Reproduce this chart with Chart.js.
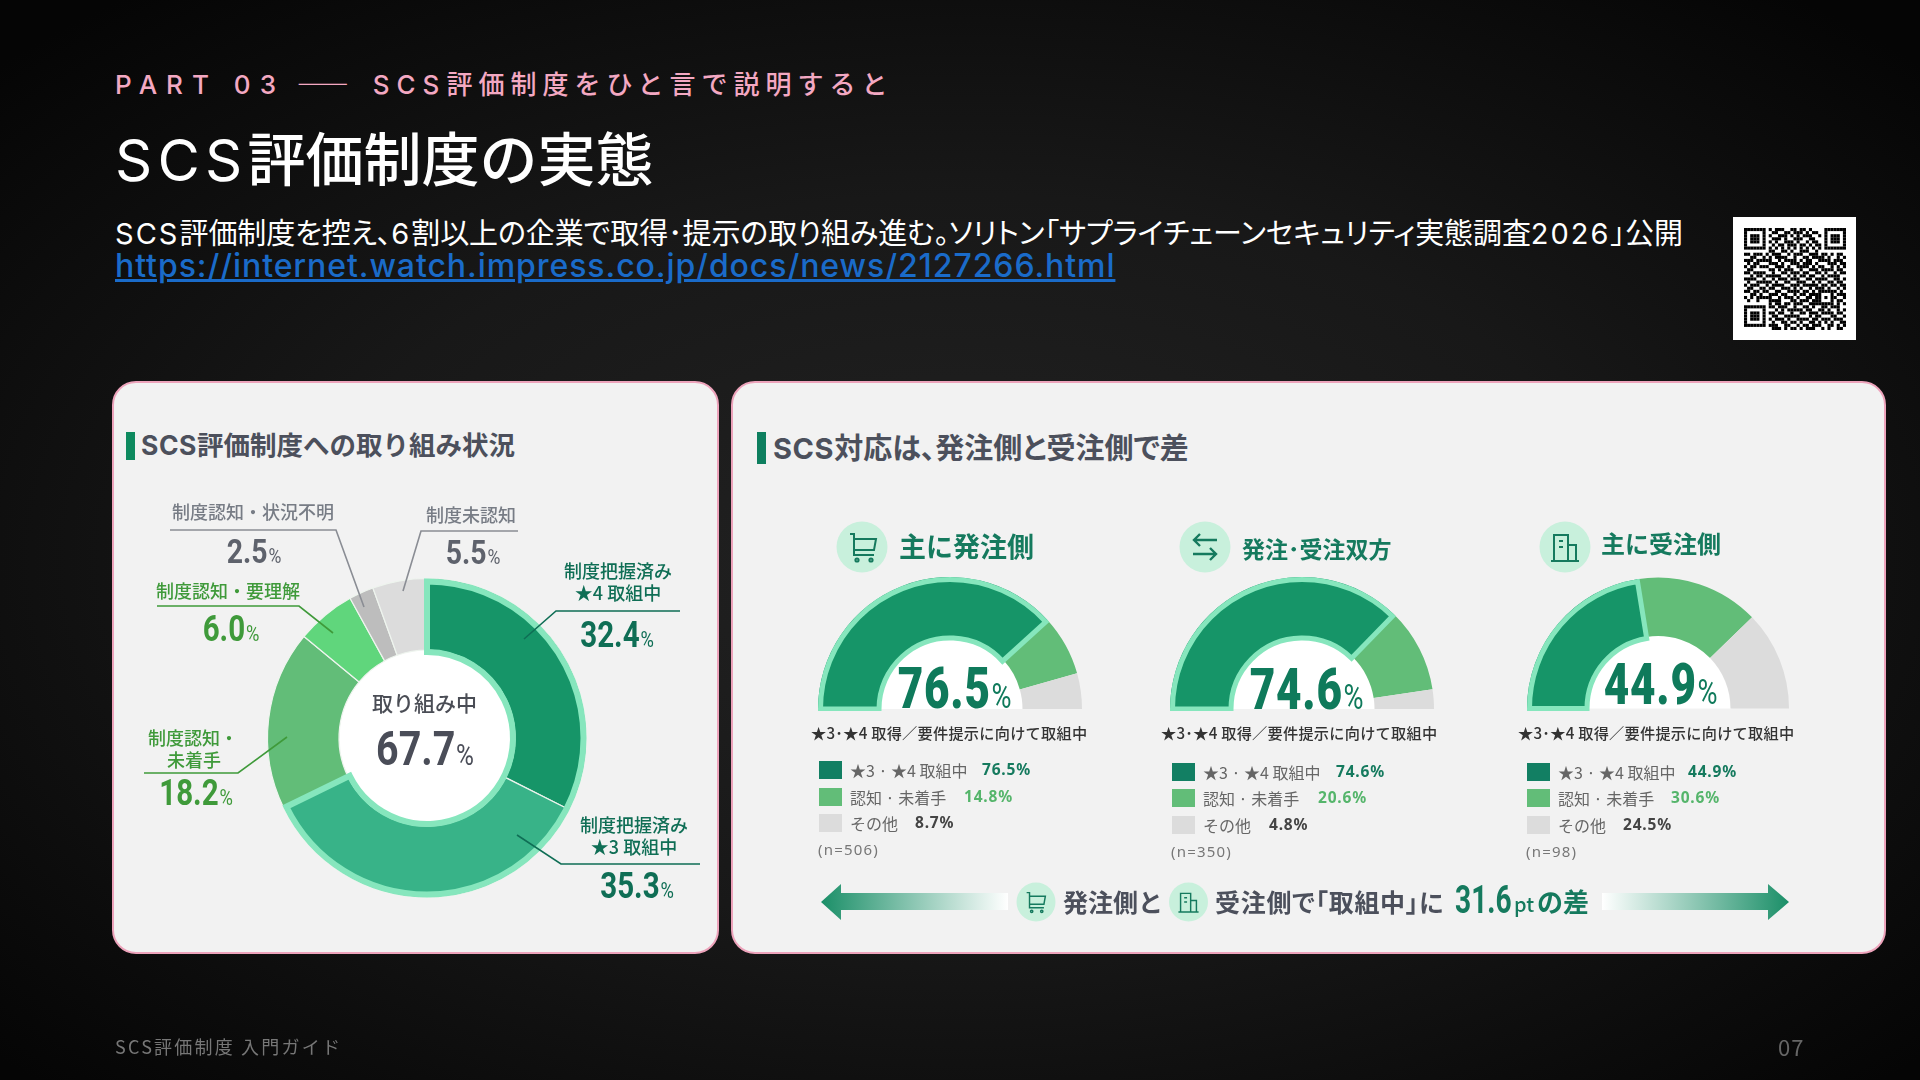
<!DOCTYPE html>
<html lang="ja">
<head>
<meta charset="utf-8">
<title>SCS評価制度の実態</title>
<script src="https://cdn.jsdelivr.net/npm/chart.js@4"></script>
<style>
html, body { margin: 0; padding: 0; }
body { width: 1920px; height: 1080px; overflow: hidden; position: relative;
  background: radial-gradient(ellipse 68% 68% at 50% 52%, #222 0%, #181818 50%, #050505 100%);
  font-family: "Noto Sans CJK JP", "Noto Sans", sans-serif; }
.card { position: absolute; box-sizing: border-box; background: #f2f2f2; border: 2px solid #eda3bb; border-radius: 24px; }
.t { position: absolute; white-space: nowrap; line-height: 1; }
.lat { font-family: Inter, sans-serif; letter-spacing: 0.07em; }
canvas, svg { position: absolute; }
.num { font-family: Roboto, sans-serif; font-weight: 700; }
.num small { font-weight: 400; font-size: 62%; margin-left: 1px; }
</style>
</head>
<body>
<script>
// values
const donutLabels = ['制度把握済み★4取組中', '制度把握済み★3取組中', '制度認知・未着手', '制度認知・要理解', '制度認知・状況不明', '制度未認知'];
const donutValues = [32.4, 35.3, 18.2, 6.0, 2.5, 5.5];
const donutColors = ['#169568', '#38b388', '#62bd78', '#60d67c', '#bdbdbd', '#dcdcdc'];

const gaugeLabels = ['★3・★4 取組中', '認知・未着手', 'その他'];
const gaugeColors = ['#169568', '#62bd78', '#dcdcdc'];
const gaugeNames = ['主に発注側', '発注･受注双方', '主に受注側'];
const gaugeBuyer = [76.5, 14.8, 8.7];
const gaugeBoth = [74.6, 20.6, 4.8];
const gaugeSeller = [44.9, 30.6, 24.5];
const gaugeCounts = ['(n=506)', '(n=350)', '(n=98)'];

const MINT = '#86e6bd';
const qrRows = [
'111111101011100110110100001111111',
'100000100110011011101011001000001',
'101110101001110101011100101011101',
'101110100111010011100110001011101',
'101110101010011101001011001011101',
'100000100101101110110101101000001',
'111111101010101010101010101111111',
'000000001100110100111001000000000',
'110111010111001011100111011010110',
'001100101011110010011011110100101',
'111011111001011110101100111101110',
'010110001110100111011101000111011',
'101101110011101001111010110010101',
'011000001101011100100111011110110',
'110111100100110111011001101001011',
'001011011111001010110110010111100',
'111100100101110111001101111001101',
'010011111010011001110010100110110',
'101110010111100111011111011011011',
'011001101100111010100101110100101',
'110110110011001111011010111111010',
'001101001110110010110111100010111',
'101011111001011101001101101011001',
'010010001111000110111011100010110',
'000000001011011011100111111110101',
'111111101101110010011010011011100',
'100000100010101111101100110100101',
'101110101101100100110111011110110',
'101110100110011111000101100011001',
'101110101011101001111011011101110',
'100000100100110110100110101010011',
'111111101110011001011011100110101',
'000000000111010110101110010100110'
];

// Helpers
function addText(str, x, cy, opts) {
    opts = opts || {};
    let el = document.createElement('div');
    el.className = 't' + (opts.num ? ' num' : '');
    el.innerHTML = str;
    el.style.left = x + 'px';
    el.style.top = (cy - 1.5) + 'px';
    el.style.fontSize = (opts.size || 16) + 'px';
    el.style.color = opts.color || '#333';
    if (opts.weight) el.style.fontWeight = opts.weight;
    if (opts.spacing) el.style.letterSpacing = opts.spacing + 'px';
    if (opts.palt) el.style.fontFeatureSettings = '"palt"';
    if (opts.decoration) el.style.textDecoration = opts.decoration;
    if (opts.family) el.style.fontFamily = opts.family;
    let tx = opts.center ? 'translate(-50%,-50%)' : 'translateY(-50%)';
    if (opts.sx) {
        tx += ' scaleX(' + opts.sx + ')';
        el.style.transformOrigin = opts.center ? '50% 50%' : '0 50%';
    }
    el.style.transform = tx;
    document.body.appendChild(el);
}

function addCard(x, y, w, h) {
    let el = document.createElement('div');
    el.className = 'card';
    el.style.cssText = `left:${x}px;top:${y}px;width:${w}px;height:${h}px`;
    document.body.appendChild(el);
}

function addBox(x, y, w, h, color) {
    let el = document.createElement('div');
    el.style.cssText = `position:absolute;left:${x}px;top:${y}px;width:${w}px;height:${h}px;background:${color}`;
    document.body.appendChild(el);
}

function numLabel(v) {
    return `${v.toFixed(1)}<small>%</small>`;
}

// white hole and the mint outline round the "in progress" segments
const outlinePlugin = {
    id: 'outline',
    beforeDatasetsDraw(chart, args, opts) {
        let a = chart.getDatasetMeta(0).data[0];
        let ctx = chart.ctx;
        ctx.save();
        ctx.fillStyle = '#fff';
        ctx.beginPath();
        if (opts.half) {
            ctx.arc(a.x, a.y, a.innerRadius + 1, -Math.PI, 0);
        } else {
            ctx.arc(a.x, a.y, a.innerRadius + 1, 0, Math.PI * 2);
        }
        ctx.fill();
        ctx.restore();
    },
    afterDatasetsDraw(chart, args, opts) {
        let arcs = chart.getDatasetMeta(0).data;
        let a = arcs[0];
        let b = arcs[opts.last];
        let w = opts.width;
        let ctx = chart.ctx;
        ctx.save();
        ctx.strokeStyle = MINT;
        ctx.lineWidth = w;
        ctx.lineJoin = 'miter';
        ctx.beginPath();
        ctx.arc(a.x, a.y, a.outerRadius - w / 2, a.startAngle, b.endAngle);
        ctx.arc(a.x, a.y, a.innerRadius - w / 2 + 1, b.endAngle, a.startAngle, true);
        ctx.closePath();
        ctx.stroke();
        ctx.restore();
    }
};

function makeCanvas(x, y, w, h) {
    let c = document.createElement('canvas');
    c.width = w;
    c.height = h;
    c.style.cssText = `left:${x}px;top:${y}px;width:${w}px;height:${h}px`;
    document.body.appendChild(c);
    return c;
}

function drawDonut() {
    new Chart(makeCanvas(257, 568, 340, 340), {
        type: 'doughnut',
        data: {
            labels: donutLabels,
            datasets: [{ data: donutValues, backgroundColor: donutColors, borderColor: '#eef4ee', borderWidth: 1.2 }]
        },
        options: {
            responsive: false, animation: false, devicePixelRatio: 1,
            radius: 159.5, cutout: (88 / 159.5 * 100) + '%',
            plugins: { legend: { display: false }, tooltip: { enabled: false }, outline: { last: 1, width: 6 } }
        },
        plugins: [outlinePlugin]
    });
}

function drawGauge(cx, baseline, radius, values) {
    new Chart(makeCanvas(cx - 136, baseline - 134, 272, 136), {
        type: 'doughnut',
        data: {
            labels: gaugeLabels,
            datasets: [{ data: values, backgroundColor: gaugeColors, borderWidth: 0 }]
        },
        options: {
            responsive: false, animation: false, devicePixelRatio: 1,
            rotation: -90, circumference: 180,
            radius: radius, cutout: (72.5 / radius * 100) + '%',
            plugins: { legend: { display: false }, tooltip: { enabled: false }, outline: { last: 0, width: 5, half: true } }
        },
        plugins: [outlinePlugin]
    });
}

function drawQr() {
    addBox(1733, 217, 123, 123, '#fff');
    let size = 33 * 3 + 3;
    let c = makeCanvas(1744, 228, size, size);
    let ctx = c.getContext('2d');
    ctx.fillStyle = '#000';
    let m = size / 33;
    qrRows.forEach((row, j) => {
        for (let i = 0; i < 33; i++) {
            if (row[i] === '1') ctx.fillRect(i * m, j * m, m, m);
        }
    });
}

// leader lines, arrows, icons
function drawOverlay() {
    const icon = '#157a5e';
    const cart = (x, y, s) => `<g transform="translate(${x},${y}) scale(${s})" fill="none" stroke="${icon}" stroke-width="2">
        <path d="M-13,-13 H-9 V8 H11 M-9,-8 H13 L11,3 H-9"/><circle cx="-6" cy="13" r="1.6"/><circle cx="8" cy="13" r="1.6"/></g>`;
    const building = (x, y, s) => `<g transform="translate(${x},${y}) scale(${s})" fill="none" stroke="${icon}" stroke-width="2">
        <path d="M-14,14 H14 M-11,14 V-12 H3 V14 M3,-2 H11 V14 M-6,-6 H-2 M-6,0 H-2"/></g>`;
    const swap = (x, y) => `<g transform="translate(${x},${y})" fill="none" stroke="${icon}" stroke-width="2.4">
        <path d="M12,-7 H-11 M-5,-13 L-11,-7 L-5,-1 M-12,7 H11 M5,1 L11,7 L5,13"/></g>`;
    const line = (pts, c) => `<polyline points="${pts}" fill="none" stroke="${c}" stroke-width="1.6"/>`;
    const circle = (x, y, r) => `<circle cx="${x}" cy="${y}" r="${r}" fill="#c8f0dc"/>`;
    let svg = `<svg xmlns="http://www.w3.org/2000/svg" width="1920" height="1080" style="left:0;top:0">
    <defs>
      <linearGradient id="gl" x1="0" x2="1"><stop offset="0" stop-color="#1b8f68"/><stop offset="1" stop-color="#fff"/></linearGradient>
      <linearGradient id="gr" x1="0" x2="1"><stop offset="0" stop-color="#fff"/><stop offset="1" stop-color="#1b8f68"/></linearGradient>
    </defs>
    ${line('170,530 336,530 364,607', '#8a8d94')}
    ${line('518,531 421,531 403,591', '#8a8d94')}
    ${line('680,611 556,611 524,639', '#0f6e55')}
    ${line('700,864 561,864 517,835', '#0f6e55')}
    ${line('144,773 238,773 287,737', '#3f9a3a')}
    ${line('157,606 299,606 333,633', '#3f9a3a')}
    ${circle(862, 547, 25.5)}${cart(863, 547, 1)}
    ${circle(1205, 547, 25.5)}${swap(1205, 547)}
    ${circle(1565, 547, 25.5)}${building(1565, 547, 1)}
    <path d="M821,902 L841,884 V893 H1008 V910 H841 V920 Z" fill="url(#gl)"/>
    <path d="M1789,902 L1768,884 V893 H1602 V910 H1768 V920 Z" fill="url(#gr)"/>
    ${circle(1036, 902, 19.5)}${cart(1036, 902, 0.72)}
    ${circle(1188.5, 902, 19.5)}${building(1188.5, 902, 0.72)}
    </svg>`;
    let holder = document.createElement('div');
    holder.innerHTML = svg;
    document.body.appendChild(holder.firstElementChild);
}

function drawGaugeBlock(g) {
    drawGauge(g.cx, 709, g.radius, g.values);
    addText(gaugeNames[g.idx], g.nameX, g.nameY, { size: g.nameSize, color: '#157a5e', weight: 700 });
    addText(numLabel(g.values[0]), g.pctX, g.pctY, { num: true, size: 58, color: '#0f7a5b', center: true, sx: 0.76, spacing: 1, weight: 900 });
    addText('★3･★4 取得／要件提示に向けて取組中', g.capX, 734.5, { size: 15.2, color: '#333', weight: 500, spacing: 0.25 });
    const boxColors = ['#127f63', '#62bd78', '#dcdcdc'];
    const pctColors = ['#157a5e', '#55b56b', '#444'];
    const rowLabels = ['★3 · ★4 取組中', '認知 · 未着手', 'その他'];
    for (let i = 0; i < 3; i++) {
        addBox(g.boxX, g.rowY[i] - 9, 23, 18, boxColors[i]);
        addText(rowLabels[i], g.boxX + 31, g.rowY[i] + 1, { size: 16, color: '#666' });
        addText(g.values[i].toFixed(1) + '%', g.valX[i], g.rowY[i] + 1, { size: 15.5, color: pctColors[i], weight: 700, spacing: 0.8, family: '"Noto Sans", sans-serif' });
    }
    addText(gaugeCounts[g.idx], g.boxX - 1, g.rowY[2] + 27, { size: 15, color: '#777', spacing: 1.2, family: '"Noto Sans", sans-serif' });
}

/*******************************************************************************
* MAIN
*******************************************************************************/
addText('<span class="lat" style="letter-spacing:9px">PART 03</span> <span style="letter-spacing:12px">——</span> <span class="lat" style="letter-spacing:7px">SCS</span>評価制度をひと言で説明すると', 115, 85, { size: 26, color: '#f3a8c2', spacing: 6, weight: 500 });
addText('<span class="lat" style="letter-spacing:0.09em;font-weight:400">SCS</span>評価制度の実態', 115, 159, { size: 58, color: '#fff', weight: 500 });
addText('<span class="lat">SCS</span>評価制度を控え、<span class="lat">6</span>割以上の企業で取得･提示の取り組み進む。ソリトン「サプライチェーンセキュリティ実態調査<span class="lat">2026</span>」公開', 115, 233, { size: 29, color: '#fff', palt: true, spacing: -0.1 });
addText('https://internet.watch.impress.co.jp/docs/news/2127266.html', 115, 267, { size: 32, color: '#1a6bc9', decoration: 'underline', family: 'Inter, sans-serif', spacing: 0.93, weight: 500 });
drawQr();

addCard(112, 381, 607, 573);
addCard(731, 381, 1155, 573);

addBox(126, 432, 9, 28, '#0e8a5f');
addText('<span class="lat" style="letter-spacing:0.02em">SCS</span>評価制度への取り組み状況', 141, 446, { size: 26.5, color: '#4c505c', weight: 700 });
addBox(757, 432, 9, 32, '#0e7f5f');
addText('<span class="lat" style="letter-spacing:0.02em">SCS</span>対応は、発注側と受注側で差', 773, 448, { size: 29, color: '#4c505c', weight: 700, palt: true });

drawDonut();
drawOverlay();

// donut labels
addText('取り組み中', 424.5, 703, { size: 21, color: '#4a4d55', center: true, weight: 500 });
addText('67.7<small>%</small>', 425, 750, { num: true, size: 48, color: '#4a4d58', center: true, sx: 0.82 });

addText('制度認知・状況不明', 253, 512, { size: 18, color: '#777c85', center: true, weight: 500 });
addText(numLabel(donutValues[4]), 254, 552, { num: true, size: 33, color: '#5e626c', center: true, sx: 0.86 });
addText('制度未認知', 471, 515, { size: 18, color: '#777c85', center: true, weight: 500 });
addText(numLabel(donutValues[5]), 473, 553, { num: true, size: 33, color: '#5e626c', center: true, sx: 0.86 });
addText('制度把握済み', 618, 571, { size: 18, color: '#0f6e55', center: true, weight: 500 });
addText('★4 取組中', 618, 593, { size: 18, color: '#0f6e55', center: true, weight: 500 });
addText(numLabel(donutValues[0]), 617, 636, { num: true, size: 36, color: '#0f6e55', center: true, sx: 0.82 });
addText('制度把握済み', 634, 825, { size: 18, color: '#0f6e55', center: true, weight: 500 });
addText('★3 取組中', 634, 847, { size: 18, color: '#0f6e55', center: true, weight: 500 });
addText(numLabel(donutValues[1]), 637, 887, { num: true, size: 36, color: '#0f6e55', center: true, sx: 0.82 });
addText('制度認知・', 193, 738, { size: 18, color: '#3f9a3a', center: true, weight: 500 });
addText('未着手', 194, 760, { size: 18, color: '#3f9a3a', center: true, weight: 500 });
addText(numLabel(donutValues[2]), 196, 794, { num: true, size: 36, color: '#3f9a3a', center: true, sx: 0.82 });
addText('制度認知・要理解', 228, 591, { size: 18, color: '#3f9a3a', center: true, weight: 500 });
addText(numLabel(donutValues[3]), 231, 630, { num: true, size: 36, color: '#3f9a3a', center: true, sx: 0.82 });

// gauges
drawGaugeBlock({ idx: 0, cx: 950, radius: 132, values: gaugeBuyer, nameX: 899, nameY: 546, nameSize: 27, pctX: 955, pctY: 689,
    capX: 811, boxX: 819, rowY: [770, 797, 823], valX: [982, 964, 915] });
drawGaugeBlock({ idx: 1, cx: 1302, radius: 132, values: gaugeBoth, nameX: 1242, nameY: 549, nameSize: 23, pctX: 1307, pctY: 690.5,
    capX: 1161, boxX: 1172, rowY: [772, 798, 825], valX: [1336, 1318, 1269] });
drawGaugeBlock({ idx: 2, cx: 1658, radius: 131, values: gaugeSeller, nameX: 1601, nameY: 544, nameSize: 24, pctX: 1661, pctY: 685.5,
    capX: 1518, boxX: 1527, rowY: [772, 798, 825], valX: [1688, 1671, 1623] });

// bottom banner
addText('発注側と', 1063, 902, { size: 25, color: '#4c505c', weight: 700 });
addText('受注側で「取組中」に', 1215, 902, { size: 25, color: '#4c505c', weight: 700, palt: true, spacing: 0.7 });
addText('31.6', 1455, 901, { num: true, size: 38, color: '#157a5e', sx: 0.74 });
addText('pt', 1514, 905, { size: 20, color: '#157a5e', weight: 500 });
addText('の差', 1537, 902, { size: 26, color: '#157a5e', weight: 700 });

// footer
addText('SCS評価制度 入門ガイド', 115, 1047, { size: 18, color: '#777', spacing: 2.2 });
addText('07', 1778, 1047, { size: 22, color: '#666', spacing: 1 });
</script>
</body>
</html>
